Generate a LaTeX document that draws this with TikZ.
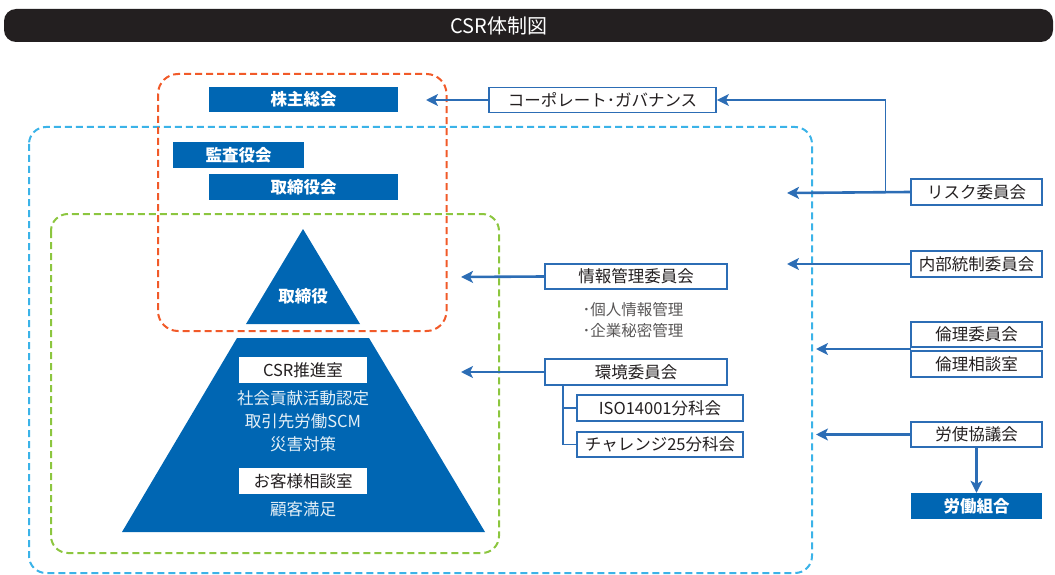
\documentclass[tikz,border=0pt]{standalone}
\usepackage{fontspec}
\setmainfont{Noto Sans CJK JP}
\usetikzlibrary{arrows.meta}
\definecolor{cblue}{HTML}{0066B3}
\definecolor{ablue}{HTML}{2C6DB5}
\definecolor{corange}{HTML}{F15A29}
\definecolor{clight}{HTML}{3BB3E8}
\definecolor{cgreen}{HTML}{8CC63F}
\definecolor{ctitle}{HTML}{231F20}
\definecolor{cgray}{HTML}{595757}
\tikzset{
  fbox/.style={fill=cblue, text=white, minimum height=25pt, inner sep=0pt,
    font=\fontsize{16.5}{19}\selectfont\bfseries},
  wbox/.style={draw=ablue, line width=1.8pt, fill=white, text=ctitle,
    minimum height=25pt, inner sep=0pt, font=\fontsize{16.5}{19}\selectfont},
  pbox/.style={fill=white, text=ctitle, minimum width=128pt, minimum height=26pt,
    inner sep=0pt, font=\fontsize{16.5}{19}\selectfont},
  ptext/.style={text=white!90!cblue, inner sep=0pt, font=\fontsize{16.5}{19}\selectfont},
  gtext/.style={text=cgray, inner sep=0pt, font=\fontsize{15.5}{18}\selectfont},
  arr/.style={draw=ablue, line width=2.6pt, -{Stealth[length=12pt,width=12pt,inset=3pt]}},
  tarr/.style={draw=ablue, line width=1.6pt, -{Stealth[length=12pt,width=12pt,inset=3pt]}},
  tline/.style={draw=ablue, line width=1.6pt},
  kline/.style={draw=ablue, line width=2.6pt},
  dbox/.style={line width=2pt, dash pattern=on 7pt off 4pt, rounded corners=17pt},
}
\begin{document}
\begin{tikzpicture}[x=1pt,y=-1pt]
\useasboundingbox (0,0) rectangle (1055,575);
\clip (0,0) rectangle (1055,575);
% title bar
\fill[ctitle, rounded corners=12pt] (4,9) rectangle (1053,42);
\node[text=white, inner sep=0pt, font=\fontsize{20}{22}\selectfont] (title) at (499,25.5) {CSR体制図};

% dashed frames
\draw[dbox, clight] (29,127) rectangle (812,573);
\draw[dbox, cgreen] (51,214) rectangle (499,553);
\draw[dbox, corange, rounded corners=20pt] (158,74) rectangle (446.5,331);

% left boxes
\node[fbox, minimum width=189pt] (kabu) at (303.5,99.5) {株主総会};
\node[fbox, minimum width=131pt, minimum height=26pt] (kansa) at (238.5,155) {監査役会};
\node[fbox, minimum width=189pt, minimum height=26pt] (tori) at (303.5,187) {取締役会};

% pyramid
\fill[cblue] (303,229) -- (360,324) -- (246,324) -- cycle;
\node[text=white, inner sep=0pt, font=\fontsize{16.5}{19}\selectfont\bfseries] (torishimari) at (303,296) {取締役};
\fill[cblue] (237,338) -- (369,338) -- (485,532) -- (122,532) -- cycle;
\node[pbox] (csr) at (303,370) {CSR推進室};
\node[ptext] (t1) at (303,398.5) {社会貢献活動認定};
\node[ptext] (t2) at (303,421.5) {取引先労働SCM};
\node[ptext] (t3) at (303,444) {災害対策};
\node[pbox] (okyaku) at (303,481) {お客様相談室};
\node[ptext] (t4) at (303,509.5) {顧客満足};

% middle boxes
\node[wbox, minimum width=227pt] (corp) at (602.5,100) {コーポレート･ガバナンス};
\node[wbox, minimum width=182pt] (jouhou) at (636,276.5) {情報管理委員会};
\node[gtext] (g1) at (633,310) {･個人情報管理};
\node[gtext] (g2) at (633,331) {･企業秘密管理};
\node[wbox, minimum width=182pt, minimum height=26pt] (kankyo) at (636,372) {環境委員会};
\node[wbox, minimum width=166pt, minimum height=26pt] (iso) at (660,408) {ISO14001分科会};
\node[wbox, minimum width=166pt] (chal) at (660,444.5) {チャレンジ25分科会};

% right boxes
\node[wbox, minimum width=131pt, minimum height=26pt] (risk) at (976.5,192) {リスク委員会};
\node[wbox, minimum width=131pt, minimum height=26pt] (naibu) at (976.5,264) {内部統制委員会};
\node[wbox, minimum width=131pt] (rinri) at (976.5,334.5) {倫理委員会};
\node[wbox, minimum width=131pt, minimum height=26pt] (rinrisou) at (976.5,364) {倫理相談室};
\node[wbox, minimum width=131pt] (roushi) at (976.5,434.5) {労使協議会};
\node[fbox, minimum width=131pt, minimum height=26pt] (roudou) at (976.5,506) {労働組合};

% coordinates for free ends
\coordinate (kabuT) at (426,100);
\coordinate (riskT) at (787,193);
\coordinate (naibuT) at (787,264);
\coordinate (jouhouT) at (461,277);
\coordinate (kankyoT) at (461,372);
\coordinate (rinriS) at (911,349);
\coordinate (rinriT) at (816,349);
\coordinate (roushiT) at (816,434.5);
\coordinate (br) at (563,385);

% connectors
\draw[arr] (corp.west) -- (kabuT);
\draw[tarr] (risk.west) -- (885.5,192) |- (corp.east);
\draw[arr] (risk.west) -- (riskT);
\draw[tarr] (naibu.west) -- (naibuT);
\draw[arr] (jouhou.west) -- (jouhouT);
\draw[arr] (kankyo.west) -- (kankyoT);
\draw[arr] (rinriS) -- (rinriT);
\draw[arr] (roushi.west) -- (roushiT);
\draw[arr] (roushi.south) -- (roudou.north);
\draw[tline] (br) |- (chal.west);
\draw[kline] (br |- iso.west) -- (iso.west);
\end{tikzpicture}
\end{document}
